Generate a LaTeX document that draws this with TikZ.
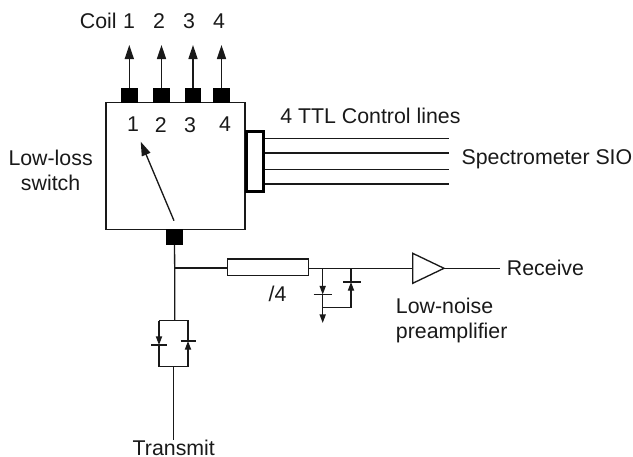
\documentclass[tikz,border=0pt]{standalone}
\usepackage{fontspec}
\setmainfont{Liberation Sans}
\usetikzlibrary{arrows.meta}
\tikzset{
 wire/.style={line width=1pt,draw=black!90},
 arr/.style={wire,-{Triangle[length=10.5pt,width=6.8pt]}},
 arrs/.style={wire,-{Triangle[length=6.5pt,width=4.6pt]}},
 port/.style={fill=black,draw=none,minimum width=#1,inner sep=0pt,outer sep=0pt},
 lab/.style={inner sep=0pt,font=\fontsize{16pt}{18.75pt}\selectfont,align=center,text=black!90},
 bar/.style={wire},
}
\begin{document}
\begin{tikzpicture}[x=0.75pt,y=-0.75pt]
\useasboundingbox (0,0) rectangle (633,457);
% switch box
\node[draw=black!90,line width=1pt,minimum width=104.25pt,minimum height=94.9pt,inner sep=0pt,outer sep=0pt] (sw) at (175.4,166) {};
% coil ports
\foreach \n/\x/\w in {1/129.3/12.6,2/161.5/12.6,3/193/12,4/221.5/12.6}{
 \node[port=\w pt,minimum height=11pt] (p\n) at (\x,95.4) {};
 \coordinate (t\n) at (\x,45);
 \draw[arr] (p\n.north) -- (t\n);
}
\node[lab,anchor=base] (c1) at (129,28.3) {1};
\node[lab,anchor=base] (c2) at (159,28.3) {2};
\node[lab,anchor=base] (c3) at (189,28.3) {3};
\node[lab,anchor=base] (c4) at (219,28.3) {4};
\node[lab,anchor=base east] (coil) at (117,28.3) {Coil};
\node[lab,anchor=base] (i1) at (133,131) {1};
\node[lab,anchor=base] (i2) at (160.7,132.7) {2};
\node[lab,anchor=base] (i3) at (190,132.7) {3};
\node[lab,anchor=base] (i4) at (225,131.7) {4};
\node[lab,anchor=base] (lls) at (50.6,190) {Low-loss\\switch};
% needle
\coordinate (na) at (174,220.7);
\coordinate (nb) at (140.7,141.7);
\draw[arr] (na) -- (nb);
% TTL
\node[draw=black,line width=2.3pt,fill=white,minimum width=12.4pt,minimum height=44.4pt,inner sep=0pt] (ttl) at (255.2,161.5) {};
\foreach \n/\y in {1/138.7,2/153,3/169.7,4/184}{
 \coordinate (e\n) at (449.3,\y);
 \draw[wire] (ttl.east |- e\n) -- (e\n);
}
\node[lab,anchor=base west] (ttltxt) at (280,123.3) {4 TTL Control lines};
\node[lab,anchor=base west] (sio) at (461.3,164.3) {Spectrometer SIO};
% bottom port
\node[port=13.2pt,minimum height=12pt] (pb) at (174.5,237) {};
\coordinate (jn) at (174.7,268);
\coordinate (lt) at (174.7,320.7);
\draw[wire] (pb.south) -- (jn) -- (lt);
% transmit switch
\coordinate (ltl) at (159,320.7);
\coordinate (ltr) at (188,320.7);
\coordinate (lbl) at (159,366.7);
\coordinate (lbr) at (188,366.7);
\coordinate (dl) at (159,345);
\coordinate (dr) at (188,341);
\draw[wire] (dr) -- (ltr) -- (ltl);
\draw[arrs] (ltl) -- (dl);
\draw[wire] (dl) -- (lbl) -- (lbr);
\draw[arrs] (lbr) -- (dr);
\draw[bar] (151,345) -- (167,345);
\draw[bar] (180.5,341) -- (196,341);
\node[lab,anchor=base] (tx) at (173.8,455.5) {Transmit};
\coordinate (tb) at (173.3,366.7);
\coordinate (te) at (173.3,440);
\draw[wire] (tb) -- (te);
% quarter wave
\node[draw=black!90,line width=1pt,minimum width=60.7pt,minimum height=12.5pt,inner sep=0pt,outer sep=0pt] (res) at (268.2,267.4) {};
\draw[wire] (jn) -- (res.west |- jn);
\node[lab,anchor=base] (q) at (277.5,301.7) {/4};
% amplifier
\coordinate (a1) at (412.7,253.3);
\coordinate (a2) at (412.7,283.3);
\coordinate (a3) at (444,268.3);
\draw[wire,line join=miter] (a1) -- (a3) -- (a2) -- cycle;
\coordinate (am) at (412.7,268.3);
\draw[wire] (res.east |- am) -- (am);
\coordinate (out) at (500,268.3);
\draw[wire] (a3) -- (out);
\node[lab,anchor=base west] (rx) at (506.7,275.7) {Receive};
\node[lab,anchor=base west,align=left] (lna) at (395.7,338) {Low-noise\\preamplifier};
% shunt diodes
\coordinate (s1) at (322.7,268);
\coordinate (s1b) at (322.7,294.5);
\coordinate (s1j) at (322.7,307.7);
\coordinate (s1e) at (322.7,323);
\coordinate (s2) at (351,268);
\coordinate (s2b) at (351,282);
\coordinate (s2j) at (351,307.7);
\draw[arrs] (s1) -- (s1b);
\draw[arrs] (s1b) -- (s1e);
\draw[wire] (s1j) -- (s2j);
\draw[wire] (s2) -- (s2b);
\draw[arrs] (s2j) -- (s2b);
\draw[bar] (313.7,294.5) -- (331.7,294.5);
\draw[bar] (343,282) -- (361,282);
\end{tikzpicture}
\end{document}
